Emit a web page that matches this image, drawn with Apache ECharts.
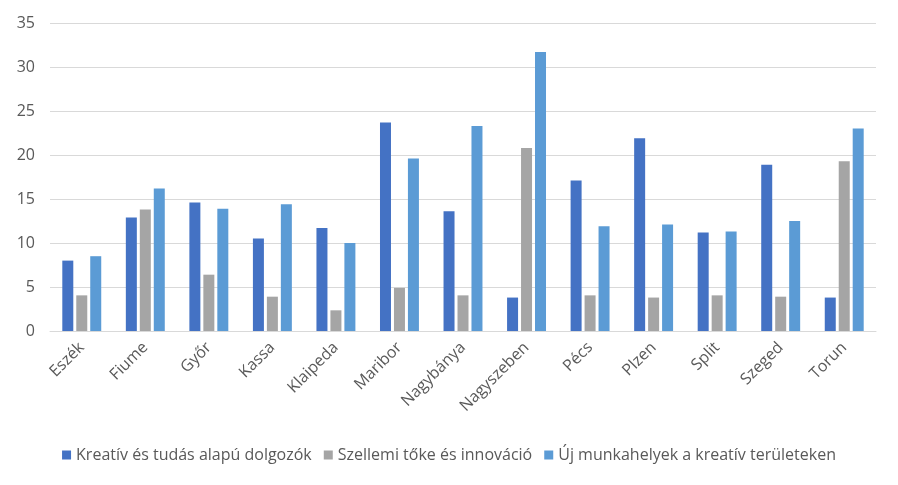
<!DOCTYPE html>
<html><head><meta charset="utf-8">
<script src="https://cdn.jsdelivr.net/npm/echarts@6/dist/echarts.min.js"></script>
<style>html,body{margin:0;padding:0;background:#fff}#c{width:898px;height:485px}</style>
</head><body><div id="c"></div>
<script>
const categories = ['Eszék','Fiume','Győr','Kassa','Klaipeda','Maribor','Nagybánya','Nagyszeben','Pécs','Plzen','Split','Szeged','Torun'];
const seriesNames = ['Kreatív és tudás alapú dolgozók','Szellemi tőke és innováció','Új munkahelyek a kreatív területeken'];
const kreativ = [8.0, 12.9, 14.6, 10.5, 11.7, 23.7, 13.6, 3.8, 17.1, 21.9, 11.2, 18.9, 3.8];
const szellemi = [4.05, 13.8, 6.4, 3.9, 2.35, 4.9, 4.05, 20.8, 4.05, 3.8, 4.05, 3.9, 19.3];
const ujMunka = [8.5, 16.2, 13.9, 14.4, 10.0, 19.6, 23.3, 31.7, 11.9, 12.1, 11.3, 12.5, 23.0];
const yTicks = [0, 5, 10, 15, 20, 25, 30, 35];
const colors = ['#4472C4', '#A5A5A5', '#5B9BD5'];
const font = 'Open Sans';
const chart = echarts.init(document.getElementById('c'));
const data = [kreativ, szellemi, ujMunka];
chart.setOption({
  animation: false,
  textStyle: {fontFamily: font},
  grid: {left: 50, right: 22, top: 23, bottom: 154, containLabel: false},
  legend: {
    top: 442, left: 'center', itemWidth: 9, itemHeight: 9, itemGap: 12,
    icon: 'rect',
    textStyle: {color: '#595959', fontSize: 16, fontFamily: font},
    data: seriesNames
  },
  xAxis: {
    type: 'category', data: categories,
    axisLine: {lineStyle: {color: '#D9D9D9'}},
    axisTick: {show: false},
    axisLabel: {rotate: 45, color: '#595959', fontSize: 16, margin: 14, interval: 0}
  },
  yAxis: {
    type: 'value', min: yTicks[0], max: yTicks[yTicks.length-1], interval: 5,
    axisLine: {show: false}, axisTick: {show: false},
    axisLabel: {color: '#595959', fontSize: 16, margin: 15},
    splitLine: {lineStyle: {color: '#D9D9D9', width: 1}}
  },
  series: seriesNames.map((n, i) => ({
    name: n, type: 'bar', data: data[i], barWidth: 11, barGap: '27%',
    itemStyle: {color: colors[i]}
  }))
});
</script></body></html>
